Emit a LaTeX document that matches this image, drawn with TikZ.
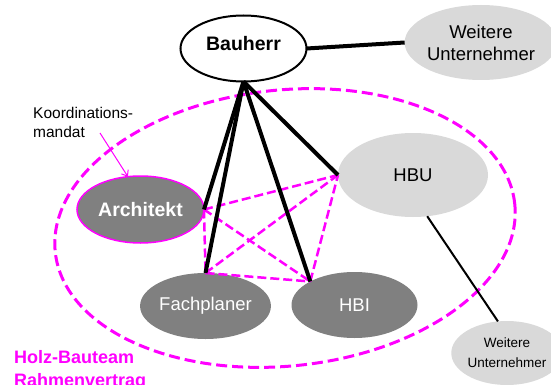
\documentclass[tikz,border=0pt]{standalone}
\usepackage{fontspec}
\setmainfont{Liberation Sans}
\usetikzlibrary{shapes.geometric,arrows.meta}
\definecolor{mag}{RGB}{255,0,255}
\definecolor{lgray}{RGB}{217,217,217}
\definecolor{dgray}{RGB}{128,128,128}
\begin{document}
\begin{tikzpicture}[x=1pt,y=-1pt,
  ell/.style={ellipse, inner sep=0pt, outer sep=0pt, align=center},
  light/.style={ell, fill=lgray, text=black},
  dark/.style={ell, fill=dgray, text=white},
  bigfont/.style={font=\fontsize{18.5}{22}\selectfont},
  boldfont/.style={font=\fontsize{19.5}{22}\selectfont\bfseries},
  thickline/.style={line width=4pt, black},
  teamline/.style={mag, line width=2.5pt, dash pattern=on 9pt off 4pt},
  teamborder/.style={mag, line width=3pt, dash pattern=on 11pt off 5pt}
]
\useasboundingbox (0,0) rectangle (551,385);

% team region
\draw[teamborder, rotate around={6:(285,228)}] (285,228) ellipse [x radius=231pt, y radius=138pt];

% nodes
\node[ell, draw=black, line width=2pt, fill=white, minimum width=126pt, minimum height=66pt,
  label={[boldfont, yshift=5pt]center:Bauherr}] (bauherr) at (243.5,48.5) {};
\node[light, bigfont, minimum width=142pt, minimum height=75pt] (weitere1) at (481,42.5) {Weitere\\Unternehmer};
\node[light, bigfont, minimum width=150pt, minimum height=84pt] (hbu) at (413,175) {HBU};
\node[dark, boldfont, draw=mag, line width=1.5pt, minimum width=127pt, minimum height=67pt] (architekt) at (140.5,209.5) {Architekt};
\node[dark, bigfont, minimum width=126pt, minimum height=66pt] (fachplaner) at (205.5,306) {Fachplaner};
\node[dark, bigfont, minimum width=126pt, minimum height=66pt] (hbi) at (354.5,305) {HBI};
\node[light, font=\fontsize{13.5}{20}\selectfont, minimum width=92pt, minimum height=64pt] (weitere2) at (507,353) {Weitere\\Unternehmer};

\node[anchor=base west, align=left, inner sep=0pt, font=\fontsize{15.5}{19}\selectfont] (koord) at (33,137) {Koordinations-\\mandat};
\node[anchor=base west, align=left, inner sep=0pt, text=mag, font=\fontsize{18}{23}\selectfont\bfseries] (holz) at (14,386) {Holz-Bauteam\\Rahmenvertrag};

% dashed cooperation links
\draw[teamline] (architekt.east) -- (fachplaner.north);
\draw[teamline] (architekt.east) -- (hbi.152);
\draw[teamline] (architekt.east) -- (hbu.west);
\draw[teamline] (fachplaner.north) -- (hbi.152);
\draw[teamline] (fachplaner.north) -- (hbu.west);
\draw[teamline] (hbi.152) -- (hbu.west);

% contracts with Bauherr
\draw[thickline] (bauherr.south) -- (architekt.east);
\draw[thickline] (bauherr.south) -- (fachplaner.north);
\draw[thickline] (bauherr.south) -- (hbi.152);
\draw[thickline] (bauherr.south) -- (hbu.west);
\draw[thickline] (bauherr.east) -- (weitere1.west);
\draw[black, line width=2pt] (hbu.-71) -- (weitere2.106);

% mandate arrow
\coordinate (kstart) at (100,133);
\draw[mag, line width=1pt, -{Straight Barb[length=5pt,width=8pt]}] (kstart) -- (architekt.111);
\end{tikzpicture}
\end{document}
